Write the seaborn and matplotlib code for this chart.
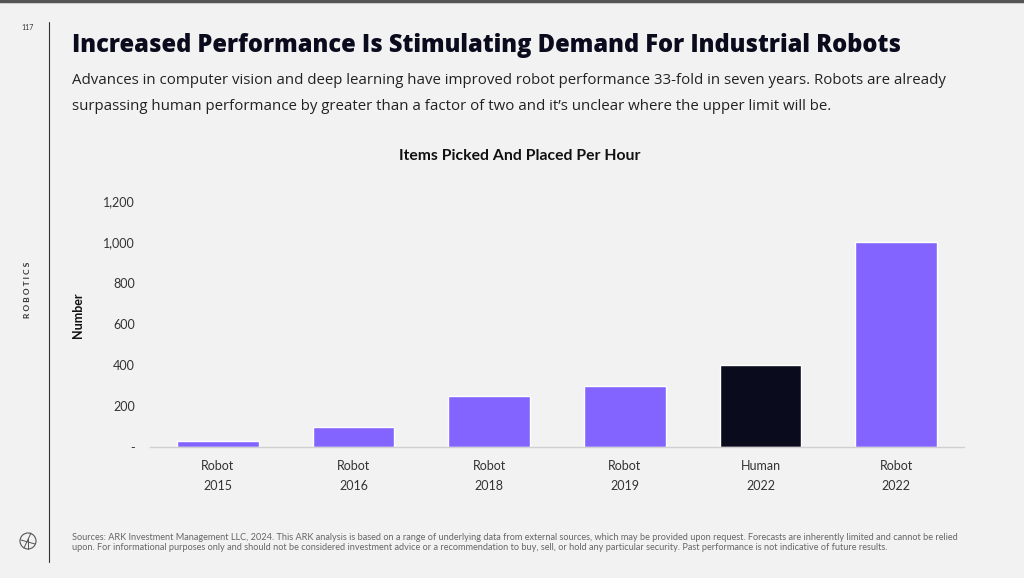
import matplotlib
matplotlib.use("Agg")
import matplotlib.pyplot as plt
import seaborn as sns
import pandas as pd
from matplotlib.patches import Circle
from matplotlib.lines import Line2D

# данные
groups = ["Robot\n2015", "Robot\n2016", "Robot\n2018", "Robot\n2019", "Human\n2022", "Robot\n2022"]
items_per_hour = [30, 100, 250, 300, 400, 1000]
bar_colors = ["#8364FF", "#8364FF", "#8364FF", "#8364FF", "#0B0B1E", "#8364FF"]
y_ticks = [0, 200, 400, 600, 800, 1000, 1200]
y_tick_labels = ["-", "200", "400", "600", "800", "1,000", "1,200"]

BG = "#F2F2F2"
sns.set_style("white")
plt.rcParams['font.family'] = ['Lato', 'DejaVu Sans']
HEAD = ['Open Sans', 'DejaVu Sans']

df = pd.DataFrame({"group": groups, "value": items_per_hour})

fig = plt.figure(figsize=(10.24, 5.78), dpi=100, facecolor=BG)
W, H = 1024, 578
ax = fig.add_axes([150 / W, 1 - 447 / H, (964 - 150) / W, (447 - 201) / H])
ax.set_facecolor(BG)

sns.barplot(data=df, x="group", y="value", hue="group",
            palette=dict(zip(groups, bar_colors)), width=0.6,
            saturation=1, legend=False, ax=ax)

ax.set_xlim(-0.5, len(groups) - 0.5)
ax.set_ylim(0, 1200)
ax.set_yticks(y_ticks)
ax.set_yticklabels(y_tick_labels)
ax.tick_params(axis='both', length=0, labelsize=9, colors="#333333")
ax.tick_params(axis='y', pad=11)
ax.tick_params(axis='x', pad=9)
for lbl in ax.get_xticklabels():
    lbl.set_linespacing(1.8)
ax.set_xlabel("")
ax.set_ylabel("Number", fontsize=9, fontweight='bold', color="#111111")
ax.yaxis.set_label_coords(-0.081, 0.537)
for s in ["top", "right", "left"]:
    ax.spines[s].set_visible(False)
ax.spines["bottom"].set_color("#D0D0D0")
ax.spines["bottom"].set_linewidth(1)

# заголовки
fig.text(72 / W, 1 - 45.5 / H, "Increased Performance Is Stimulating Demand For Industrial Robots",
         fontsize=17.0, fontweight='heavy', family=HEAD, color="#0B0B1E", va='center', ha='left')
fig.text(72 / W, 1 - 80 / H,
         "Advances in computer vision and deep learning have improved robot performance 33-fold in seven years. Robots are already",
         fontsize=10.8, family=HEAD, color="#222222", va='center', ha='left')
fig.text(72 / W, 1 - 106 / H,
         "surpassing human performance by greater than a factor of two and it\u2019s unclear where the upper limit will be.",
         fontsize=10.8, family=HEAD, color="#222222", va='center', ha='left')
fig.text(520 / W, 1 - 156 / H, "Items Picked And Placed Per Hour",
         fontsize=11.3, fontweight='bold', color="#111111", va='center', ha='center')

# боковая панель
fig.add_artist(Line2D([0, 1], [1 - 1 / H, 1 - 1 / H], color="#555555", lw=2.5))
fig.add_artist(Line2D([49 / W, 49 / W], [1 - 22 / H, 1 - 562 / H], color="#333333", lw=0.8))
fig.text(28 / W, 1 - 27 / H, "117", fontsize=5, color="#333333", va='center', ha='center')
fig.text(28 / W, 1 - 290 / H, "R O B O T I C S", fontsize=6, fontweight='bold',
         color="#333333", rotation=90, va='center', ha='center')

# логотип
logo = Circle((28, H - 541), 8, transform=None, fill=False, ec="#555555", lw=0.8)
fig.add_artist(logo)
fig.add_artist(Line2D([24 / W, 31 / W], [1 - 548 / H, 1 - 533 / H], color="#555555", lw=0.7))
fig.add_artist(Line2D([28 / W, 28 / W], [1 - 549 / H, 1 - 538 / H], color="#555555", lw=0.7))
fig.add_artist(Line2D([21 / W, 35 / W], [1 - 540 / H, 1 - 544 / H], color="#555555", lw=0.7))

# сноска
fig.text(72 / W, 1 - 538 / H,
         "Sources: ARK Investment Management LLC, 2024. This ARK analysis is based on a range of underlying data from external sources, which may be provided upon request. Forecasts are inherently limited and cannot be relied",
         fontsize=6.6, color="#666666", va='center', ha='left')
fig.text(72 / W, 1 - 548 / H,
         "upon. For informational purposes only and should not be considered investment advice or a recommendation to buy, sell, or hold any particular security. Past performance is not indicative of future results.",
         fontsize=6.6, color="#666666", va='center', ha='left')

fig.savefig("out.png", dpi=100, facecolor=BG)
